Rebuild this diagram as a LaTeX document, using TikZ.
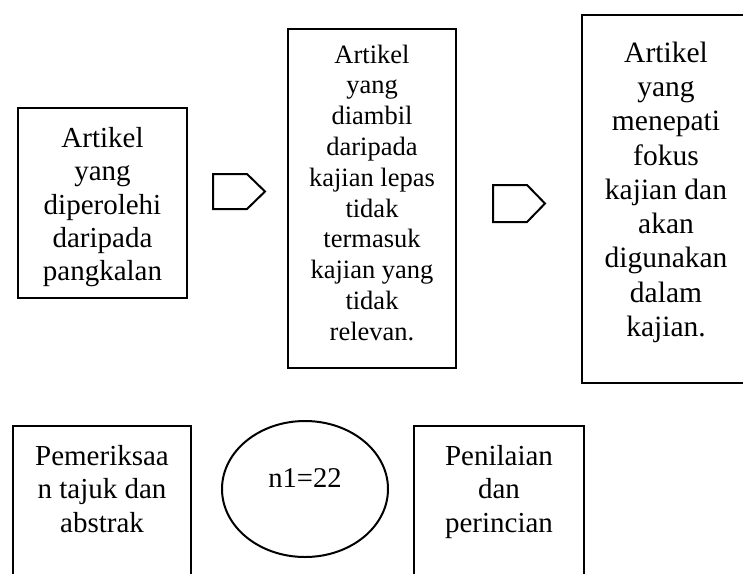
\documentclass[tikz,border=0pt]{standalone}
\usepackage{fontspec}
\setmainfont{Liberation Serif}
\usetikzlibrary{shapes.geometric}
\tikzset{
  box/.style={draw, line width=2.4pt, rectangle, inner sep=0pt},
  oval/.style={draw, line width=2pt, ellipse, inner sep=0pt},
  pent/.style={draw, line width=2pt, line join=miter},
  txt/.style={align=center, inner sep=0pt, anchor=north},
  fbig/.style={font=\fontsize{29}{33.4}\selectfont},
  fmid/.style={font=\fontsize{26.5}{30.8}\selectfont},
  fbig3/.style={font=\fontsize{29.5}{34.3}\selectfont},
}
\begin{document}
\begin{tikzpicture}[x=1pt, y=-1pt]
\useasboundingbox (0,0) rectangle (743,573);
\clip (0,0) rectangle (743,573);
% top row boxes
\node[box, minimum width=169pt, minimum height=190pt] (b1) at (102.5,203) {};
\node[box, minimum width=168pt, minimum height=339pt] (b2) at (372,198.5) {};
\node[box, minimum width=169pt, minimum height=368pt] (b3) at (666.5,199) {};
\node[txt, fbig] (t1) at (102.5,127) {Artikel\\yang\\diperolehi\\daripada\\pangkalan};
\node[txt, fmid] (t2) at (372,44.5) {Artikel\\yang\\diambil\\daripada\\kajian lepas\\tidak\\termasuk\\kajian yang\\tidak\\relevan.};
\node[txt, fbig3] (t3) at (666,41.5) {Artikel\\yang\\menepati\\fokus\\kajian dan\\akan\\digunakan\\dalam\\kajian.};
% pentagon arrows
\draw[pent] (213,174) -- (247,174) -- (265,191.5) -- (247,209) -- (213,209) -- cycle;
\draw[pent] (493,185) -- (527,185) -- (545,203.5) -- (527,222) -- (493,222) -- cycle;
% bottom row
\node[box, minimum width=178pt, minimum height=194pt] (b4) at (102,523) {};
\node[oval, minimum width=166pt, minimum height=136pt] (e1) at (305,489) {};
\node[box, minimum width=170pt, minimum height=194pt] (b5) at (499,523) {};
\node[txt, fbig] (t4) at (102,445) {Pemeriksaa\\n tajuk dan\\abstrak};
\node[anchor=base, inner sep=0pt, font=\fontsize{28.6}{33}\selectfont] (t6) at (305,487) {n1=22};
\node[txt, fbig] (t5) at (499,445) {Penilaian\\dan\\perincian};
\end{tikzpicture}
\end{document}
